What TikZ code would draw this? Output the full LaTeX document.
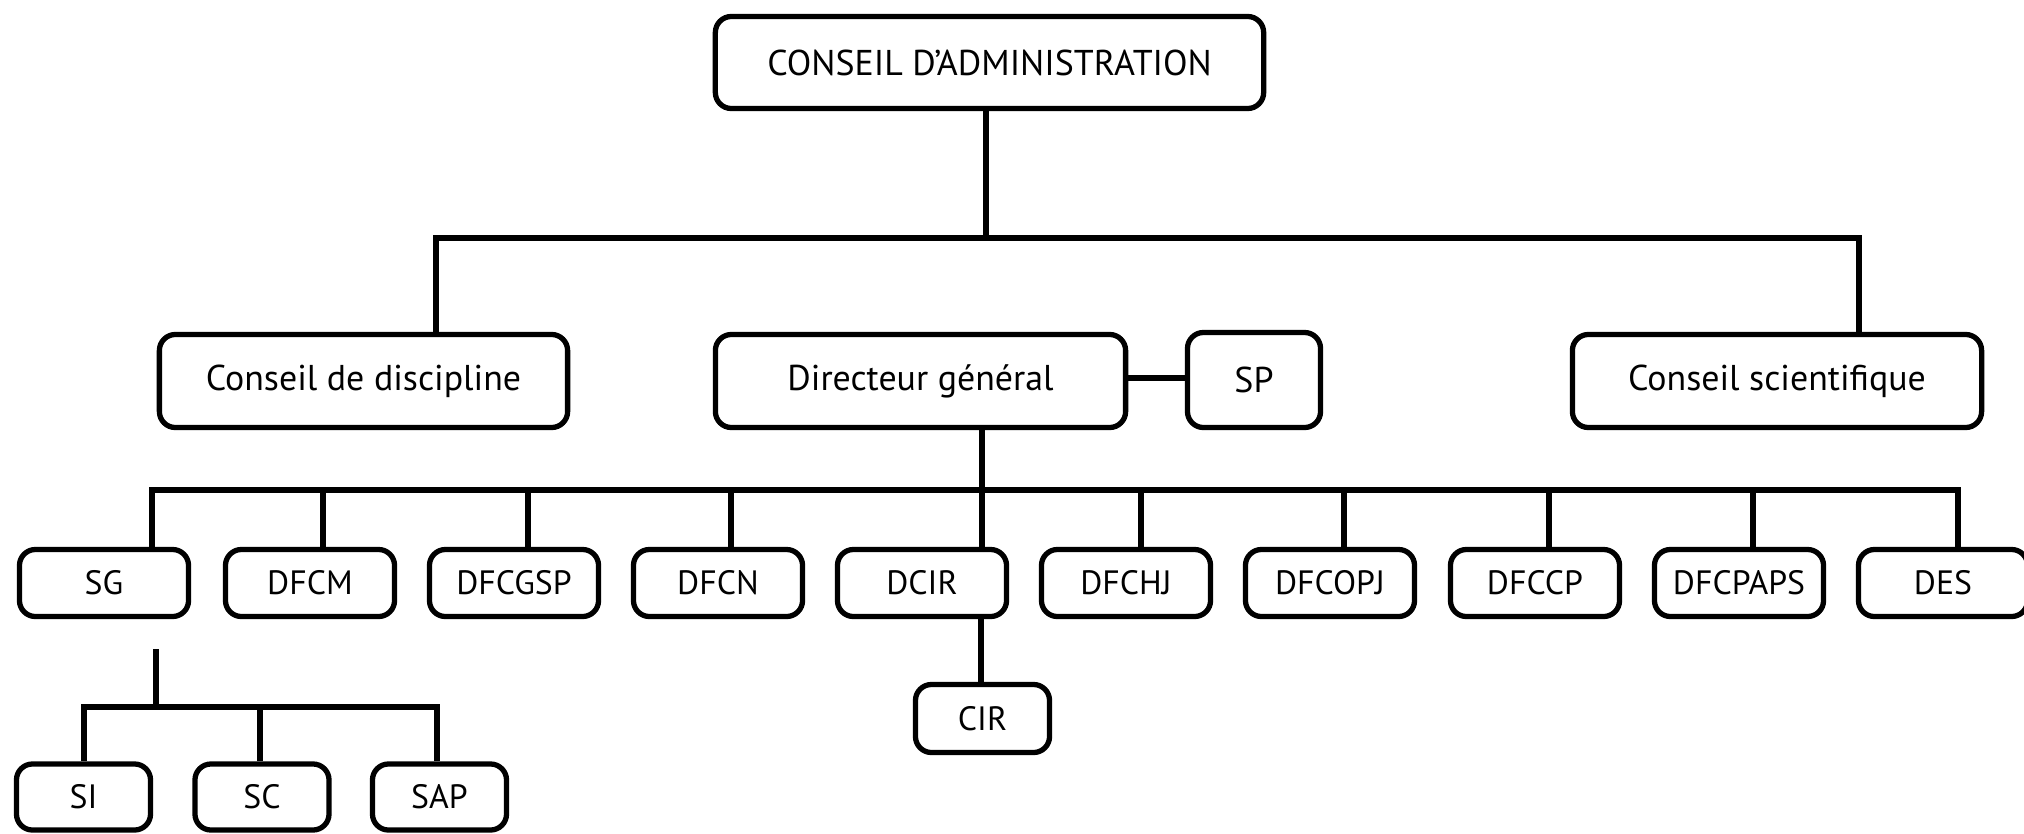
\documentclass[tikz,border=0pt]{standalone}
\usepackage{fontspec}
\setmainfont{PT Sans}
\begin{document}
\begin{tikzpicture}[x=0.01cm,y=-0.01cm,
  bx/.style={draw=black,line width=1.5pt,rounded corners=0.16cm,fill=white,inner sep=0pt,font=\fontsize{10.2}{12}\selectfont},
  sbx/.style={bx,minimum width=1.69cm,minimum height=0.67cm,font=\fontsize{9.6}{11}\selectfont},
  tbx/.style={bx,minimum width=1.34cm,minimum height=0.66cm,font=\fontsize{9.6}{11}\selectfont},
  ln/.style={line width=1.7pt}]
\useasboundingbox (0,0) rectangle (2024,833);
\fill[white] (0,0) rectangle (2024,833);
% level 0
\node[bx,minimum width=5.48cm,minimum height=0.92cm] (CA) at (989.5,62.5) {CONSEIL D’ADMINISTRATION};
% level 1
\node[bx,minimum width=4.08cm,minimum height=0.93cm] (CD) at (363.5,381) {Conseil de discipline};
\node[bx,minimum width=4.10cm,minimum height=0.93cm] (DG) at (920.5,381) {Directeur général};
\node[bx,minimum width=1.33cm,minimum height=0.95cm] (SP) at (1254,380) {SP};
\node[bx,minimum width=4.09cm,minimum height=0.93cm] (CS) at (1777,381) {Conseil scientifique};
% level 2
\node[sbx] (SG) at (104,583) {SG};
\node[sbx] (DFCM) at (310,583) {DFCM};
\node[sbx] (DFCGSP) at (514,583) {DFCGSP};
\node[sbx] (DFCN) at (718,583) {DFCN};
\node[sbx] (DCIR) at (922,583) {DCIR};
\node[sbx] (DFCHJ) at (1126,583) {DFCHJ};
\node[sbx] (DFCOPJ) at (1330,583) {DFCOPJ};
\node[sbx] (DFCCP) at (1535,583) {DFCCP};
\node[sbx] (DFCPAPS) at (1739,583) {DFCPAPS};
\node[sbx] (DES) at (1943,583) {DES};
% level 3
\node[tbx,minimum height=0.68cm] (CIR) at (982.5,718.5) {CIR};
\node[tbx] (SI) at (83.5,797) {SI};
\node[tbx] (SC) at (262,797) {\raisebox{-0.4ex}{SC}};
\node[tbx] (SAP) at (439.5,797) {\raisebox{-0.4ex}{SAP}};
% top bus
\coordinate (t0) at (986,238);
\coordinate (tl) at (436,238);
\coordinate (tr) at (1859,238);
\draw[ln] (CA.south -| t0) -- (t0);
\draw[ln] (CD.north -| tl) -- (tl) -- (tr) -- (CS.north -| tr);
% DG - SP
\coordinate (sj) at (1150,378);
\draw[ln] (DG.east |- sj) -- (SP.west |- sj);
% middle bus
\coordinate (mj) at (982,490);
\coordinate (v1) at (152,490);
\coordinate (v2) at (323,490);
\coordinate (v3) at (528,490);
\coordinate (v4) at (731,490);
\coordinate (v6) at (1141,490);
\coordinate (v7) at (1344,490);
\coordinate (v8) at (1549,490);
\coordinate (v9) at (1753,490);
\coordinate (v10) at (1958,490);
\draw[ln] (DG.south -| mj) -- (DCIR.north -| mj);
\draw[ln] (SG.north -| v1) -- (v1) -- (v10) -- (DES.north -| v10);
\draw[ln] (DFCM.north -| v2) -- (v2);
\draw[ln] (DFCGSP.north -| v3) -- (v3);
\draw[ln] (DFCN.north -| v4) -- (v4);
\draw[ln] (DFCHJ.north -| v6) -- (v6);
\draw[ln] (DFCOPJ.north -| v7) -- (v7);
\draw[ln] (DFCCP.north -| v8) -- (v8);
\draw[ln] (DFCPAPS.north -| v9) -- (v9);
% DCIR - CIR
\coordinate (cj) at (981,650);
\draw[ln] (DCIR.south -| cj) -- (CIR.north -| cj);
% SG subtree
\coordinate (gs) at (156,649);
\coordinate (gj) at (156,707);
\coordinate (gl) at (84,707);
\coordinate (gm) at (260,707);
\coordinate (gr) at (437,707);
\draw[ln] (gs) -- (gj);
\draw[ln] (SI.north -| gl) -- (gl) -- (gr) -- (SAP.north -| gr);
\draw[ln] (SC.north -| gm) -- (gm);
\end{tikzpicture}
\end{document}
